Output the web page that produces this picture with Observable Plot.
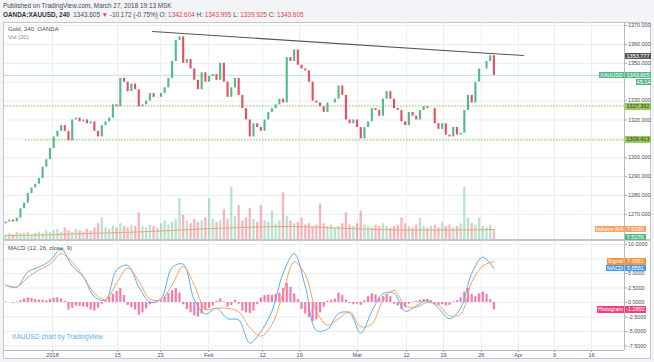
<!DOCTYPE html>
<html><head><meta charset="utf-8">
<script src="https://cdn.jsdelivr.net/npm/d3@7"></script>
<script src="https://cdn.jsdelivr.net/npm/@observablehq/plot@0.6"></script>
<style>
html,body{margin:0;padding:0;background:#f2f4f7;}
#root{position:relative;width:654px;height:362px;overflow:hidden;font-family:"Liberation Sans",Arial,sans-serif;}
.box{position:absolute;}
.tag{position:absolute;height:6.6px;line-height:6.6px;font-size:5.5px;color:#fff;white-space:nowrap;text-align:center;}
.txt{position:absolute;white-space:nowrap;}
.hd{position:absolute;left:3px;white-space:nowrap;font-size:6.4px;color:#4a4a4a;}
.red{color:#e5404f;}
</style></head><body><div id="root"></div>
<script>
// ---------- data ----------
const firstOpen = 1265;
const closes = [1266,1267,1266,1268,1273,1276,1281,1284,1286,1289,
1295,1299,1305,1311,1314,1317,1314,1309,1320,1321,
1319,1320,1318,1319,1314,1311,1317,1319,1321,1328,
1327,1342,1340,1335,1339,1336,1327,1328,1330,1334,
1332,1332,1334,1337,1342,1351,1362,1364,1350,1352,
1347,1341,1336,1345,1340,1343,1344,1341,1350,1340,
1332,1337,1342,1333,1326,1320,1311,1318,1316,1314,
1320,1324,1326,1328,1331,1329,1353,1351,1357,1349,
1347,1346,1340,1330,1329,1327,1324,1329,1329,1331,
1338,1333,1320,1318,1320,1316,1310,1316,1319,1326,
1325,1322,1331,1335,1331,1326,1325,1319,1317,1324,
1322,1320,1325,1327,1326,1326,1318,1315,1318,1312,
1311,1316,1312,1313,1325,1333,1329,1340,1347,1347,
1351,1354,1343.605];
const volumes = [4,5,4,6,5,5,6,4,5,6,5,7,6,
7,8,6,9,7,6,8,7,6,8,7,9,12,
16,9,8,10,9,12,10,9,11,10,
20,10,9,11,10,9,12,14,11,13,
15,30,18,14,12,15,13,14,16,30,
15,13,14,22,15,38,17,25,14,16,
23,15,13,25,14,13,21,12,14,34,
17,14,12,13,16,11,12,10,11,26,
12,10,11,9,10,12,20,11,10,12,
21,11,10,9,11,10,12,10,9,10,
11,16,12,10,9,11,16,10,9,10,
11,9,13,10,11,9,10,12,38,16,
12,11,16,10,9,11,7.5];
const volMABars = [0,11,22,33,44,55,66,77,88,99,110,121,132];
const volMAValues = [3.5,4.0,5.0,5.8,7.0,8.5,9.5,10.0,9.0,8.0,7.5,7.5,7.9];
const histogram = [0.1,0,-0.1,0.1,0.3,0.6,0.8,0.7,0.5,0.4,
0.4,0.3,0.5,0.7,0.8,0.6,0.2,-1.3,-1.0,-0.6,
-0.7,-0.8,-0.9,-1.3,-1.5,-1.0,-0.3,0.3,0.9,1.4,
1.9,2.4,1.2,-0.5,-0.9,-1.3,-2.2,-1.8,-1.1,-0.4,
-0.2,0,0.3,0.9,1.5,2.0,2.4,1.6,-0.4,-1.2,
-1.8,-2.3,-2.5,-2.0,-1.4,-1.0,-0.6,0.2,0.6,0.1,
-0.8,-0.5,0.4,-0.3,-1.5,-1.8,-1.9,-1.5,-0.4,0.8,
1.2,1.3,1.2,1.4,1.6,2.4,3.3,2.6,1.5,0.5,
-1.2,-2.0,-2.6,-3.3,-3.0,-1.8,-0.8,0.2,0.4,0.6,
1.6,1.2,0.4,-0.2,-0.4,-0.3,-0.5,0.3,1.0,1.5,
1.3,0.8,1.0,1.4,1.0,-0.3,-0.6,-1.2,-0.9,-0.3,
0.1,0.2,0.4,0.5,0.5,0.3,-0.3,-0.5,-0.4,-0.6,
-0.5,0.1,0.3,0.8,1.8,2.4,1.4,1.0,1.5,1.8,
1.4,0.5,-1.29];
const macdStep = 3; // one MACD/Signal reading every 3 bars
const macdValues = [3.0,2.6,5.3,6.1,7.2,9.2,6.3,4.4,1.0,0.4,
5.6,6.4,2.7,0.1,0.6,6.0,6.6,0.5,-2.0,-1.0,
-2.8,-3.0,-7.0,-5.0,-1.5,5.0,8.4,2.8,-4.8,-4.6,
-1.9,-1.8,-5.3,-1.5,1.5,1.6,-1.5,-0.6,0.4,-1.0,
-2.8,-1.0,5.0,7.8,5.86];
const signalValues = [3.0,2.7,4.3,5.6,6.6,8.4,7.0,4.5,1.6,0.5,
3.3,5.9,3.7,0.6,0.5,3.0,6.2,3.0,-1.1,-1.0,
-1.0,-1.6,-4.3,-5.8,-3.8,1.6,7.0,4.8,-1.5,-3.9,
-2.8,-1.6,-4.2,-3.7,0.3,2.1,-0.6,-0.8,0.0,-0.5,
-2.3,-2.0,3.5,6.3,7.06];
const tickLabels = ["2018","15","23","Feb","12","19","Mar","12","19","26","Apr","9","16"];
const tickBars = [12.7,30.3,41.9,54.9,69.5,79.5,95.1,108.4,118.4,128.6,138.6,148.4,158.4];
const priceGrid = [1270,1280,1290,1300,1310,1320,1330,1340,1350,1360,1370];
const priceLabels = [1270,1280,1290,1300,1320,1350,1360,1370]; // 1310 and 1340 sit under price tags
const priceLabelsNearTag = [1330]; // just above the 1327.392 tag
const macdGrid = [-7.5,-5,-2.5,0,2.5,5,7.5,10];
const macdLabels = [-7.5,-5,-2.5,0,2.5,5,10]; // 7.5 sits under the Signal tag
const trendBars = [39.7,140];
const trendPrices = [1366.8,1354.1];
const level1 = 1327.392, level1StartBar = -0.3;
const level2 = 1309.413, level2StartBar = 5.4;
const lastPrice = 1343.605;

// ---------- layout ----------
const root = document.getElementById("root");
const FX = 3, FY = 22, FW = 648, AXW = 27;
const MAIN_H = 218, VOL_H = 70, MACD_TOP = 242, MACD_H = 117, MACD_MB = 9;
const xDomain = [-0.3, 167.3];
const UP = "#53b987", DOWN = "#eb4d5c", GRID = "#eaedf2", AXC = "#4a4a4a";

const bars = closes.map((c, i) => ({i, open: i ? closes[i-1] : firstOpen, close: c, vol: volumes[i]}));
const labelMap = new Map(tickBars.map((b, k) => [b, tickLabels[k]]));

function div(cls, css, html) { const d = document.createElement("div"); d.className = cls; Object.assign(d.style, css); if (html != null) d.innerHTML = html; root.appendChild(d); return d; }
function mount(svg, left, top) { const w = document.createElement("div"); w.className = "box"; w.style.left = left + "px"; w.style.top = top + "px"; w.appendChild(svg); root.appendChild(w); }

// header
div("hd", {top: "2px"}, "Published on TradingView.com, March 27, 2018 19:13 MSK");
div("hd", {top: "11px"}, '<b style="color:#333">OANDA:XAUUSD, 240</b>&nbsp; 1343.605 <span class="red">&#9660;</span> -10.172 (-0.75%) O: <span class="red">1342.604</span> H: <span class="red">1343.995</span> L: <span class="red">1339.925</span> C: <span class="red">1343.605</span>');

// chart frame
div("box", {left: FX + "px", top: FY + "px", width: (FW - 2) + "px", height: "335px", background: "#fff", border: "1px solid #c3c7cd"});

const baseStyle = {background: "transparent", fontFamily: "Liberation Sans, Arial, sans-serif", fontSize: "5.6px", color: AXC, overflow: "visible"};
const axisOpts = {anchor: "right", tickSize: 2, tickPadding: 1.5, stroke: "#9a9ea6", fill: AXC, fontSize: 5.4};

// main price pane
const mainPlot = Plot.plot({
  width: FW, height: MAIN_H, marginLeft: 1, marginRight: AXW, marginTop: 0, marginBottom: 0,
  x: {domain: xDomain, axis: null},
  y: {domain: [1256.2, 1371.6], axis: null},
  style: baseStyle,
  marks: [
    Plot.ruleX(tickBars, {stroke: GRID}),
    Plot.ruleY(priceGrid, {stroke: GRID}),
    Plot.axisY(priceLabels, {...axisOpts, tickFormat: d => d.toFixed(3)}),
    Plot.axisY(priceLabelsNearTag, {...axisOpts, tickFormat: d => d.toFixed(3), textAnchor: "start", dy: -0.8}),
    Plot.ruleY([lastPrice], {stroke: "#a9dcc6", strokeWidth: 0.8}),
    Plot.ruleY([{y: level1, x1: level1StartBar}], {y: "y", x1: "x1", x2: xDomain[1], stroke: "#8fbf4d", strokeWidth: 1, strokeDasharray: "1.5,1.5"}),
    Plot.ruleY([{y: level2, x1: level2StartBar}], {y: "y", x1: "x1", x2: xDomain[1], stroke: "#8fbf4d", strokeWidth: 1, strokeDasharray: "1.5,1.5"}),
    Plot.ruleX(bars, {x: "i", y1: "open", y2: "close", stroke: d => d.close >= d.open ? UP : DOWN, strokeWidth: 2.1}),
    Plot.line(trendBars.map((b, k) => ({b, p: trendPrices[k]})), {x: "b", y: "p", stroke: "#555", strokeWidth: 1.1})
  ]
});
mount(mainPlot, FX, FY);

// volume overlay
const volPlot = Plot.plot({
  width: FW, height: VOL_H, marginLeft: 1, marginRight: AXW, marginTop: 0, marginBottom: 0,
  x: {domain: xDomain, axis: null},
  y: {domain: [0, 50], axis: null},
  style: baseStyle,
  marks: [
    Plot.ruleX(bars, {x: "i", y1: 0, y2: "vol", stroke: d => d.close >= d.open ? UP : DOWN, strokeOpacity: 0.42, strokeWidth: 2.3}),
    Plot.line(volMABars.map((b, k) => ({b, v: volMAValues[k]})), {x: "b", y: "v", stroke: "#f7a072", strokeWidth: 1, curve: "monotone-x"})
  ]
});
mount(volPlot, FX, FY + MAIN_H - VOL_H);

// MACD pane
const macdPts = macdValues.map((v, k) => ({b: k * macdStep, v}));
const sigPts = signalValues.map((v, k) => ({b: k * macdStep, v}));
const macdPlot = Plot.plot({
  width: FW, height: MACD_H, marginLeft: 1, marginRight: AXW, marginTop: 0, marginBottom: MACD_MB,
  x: {domain: xDomain, axis: null},
  y: {domain: [-8.28, 10.34], axis: null},
  style: baseStyle,
  marks: [
    Plot.ruleX(tickBars, {stroke: GRID}),
    Plot.ruleY(macdGrid, {stroke: GRID}),
    Plot.axisY(macdLabels, {...axisOpts, tickFormat: d => d.toFixed(4)}),
    Plot.axisX(tickBars, {anchor: "bottom", tickFormat: d => labelMap.get(d), tickSize: 2, tickPadding: 1, stroke: "#9a9ea6", fill: AXC, fontSize: 5.6}),
    Plot.ruleX(histogram.map((h, i) => ({i, h})), {x: "i", y1: 0, y2: "h", stroke: "#f5589a", strokeOpacity: 0.8, strokeWidth: 2.2}),
    Plot.line(macdPts, {x: "b", y: "v", stroke: "#58aef0", strokeWidth: 1, curve: "catmull-rom"}),
    Plot.line(sigPts, {x: "b", y: "v", stroke: "#f6a25e", strokeWidth: 1, curve: "catmull-rom"})
  ]
});
mount(macdPlot, FX, MACD_TOP);

// pane separators / axis lines
div("box", {left: (FX + 1) + "px", top: (FY + MAIN_H - 1) + "px", width: (FW - 2) + "px", height: "2px", background: "#c3c7cd"});
div("box", {left: (FX + FW - AXW) + "px", top: (FY + 1) + "px", width: "1px", height: (MACD_TOP + MACD_H - MACD_MB - FY - 1) + "px", background: "#b5b9c0"});
div("box", {left: (FX + 1) + "px", top: (MACD_TOP + MACD_H - MACD_MB) + "px", width: (FW - AXW - 1) + "px", height: "1px", background: "#b5b9c0"});

// pane titles
div("txt", {left: "8px", top: "26px", fontSize: "6px", color: "#4a4a4a"}, "Gold, 240, OANDA");
div("txt", {left: "8px", top: "34px", fontSize: "6px", color: "#8a8a8a"}, "Vol (20)");
div("txt", {left: "8px", top: "245px", fontSize: "6px", color: "#4a4a4a"}, "MACD (12, 26, close, 9)");
div("txt", {left: "12px", top: "333px", fontSize: "6.6px", color: "#5aaee8"}, "XAUUSD chart by TradingView");

// price tags (vertical positions from the plots' own scales)
const yMain = v => FY + mainPlot.scale("y").apply(v);
const yVol = v => FY + MAIN_H - VOL_H + volPlot.scale("y").apply(v);
const yMacd = v => MACD_TOP + macdPlot.scale("y").apply(v);
const AX_L = FX + FW - AXW + 1;
function tag(text, bg, fg, left, width, cy) {
  return div("tag", {left: left + "px", width: width + "px", top: (cy - 3.1) + "px", background: bg, color: fg}, text);
}
tag("1353.777", "#555", "#fff", AX_L, 26, yMain(1353.777));
tag("XAUUSD", "#53b987", "#fff", AX_L - 26, 25, yMain(lastPrice));
tag(lastPrice.toFixed(3), "#53b987", "#fff", AX_L, 26, yMain(lastPrice));
tag("45:14", "#53b987", "#fff", AX_L + 11, 15, yMain(lastPrice) + 7);
tag(level1.toFixed(3), "#99c85f", "#2b3a1a", AX_L, 26, yMain(level1) + 0.6);
tag(level2.toFixed(3), "#99c85f", "#2b3a1a", AX_L, 26, yMain(level2));
tag("Volume MA", "#f9a15e", "#fff", AX_L - 30, 29, yVol(7.929));
tag("7.929K", "#f9a15e", "#fff", AX_L, 21, yVol(7.929));
tag("7.527K", "#53b987", "#fff", AX_L, 21, yVol(7.929) + 8);
tag("Signal", "#f6923a", "#fff", AX_L - 18, 17, yMacd(7.0581));
tag("7.0581", "#f6923a", "#fff", AX_L, 21, yMacd(7.0581));
tag("MACD", "#3d9cf0", "#fff", AX_L - 19, 18, yMacd(5.8581));
tag("5.8581", "#3d9cf0", "#fff", AX_L, 21, yMacd(5.8581));
tag("Histogram", "#f2407e", "#fff", AX_L - 28, 27, yMacd(-1.2892));
tag("-1.2892", "#f2407e", "#fff", AX_L, 21, yMacd(-1.2892));
</script></body></html>
